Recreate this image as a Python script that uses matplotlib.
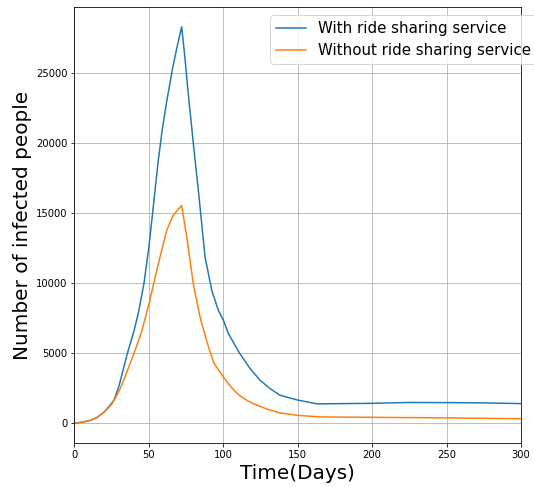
import matplotlib.pyplot as plt

# days / infected counts
days_with = [0, 5, 10, 15, 20, 24, 26.5, 30, 35.5, 40, 43, 46.7, 50, 53, 56, 59, 62,
             66, 69, 72, 74, 76, 80, 83.2, 87.7, 92.2, 96.6, 100, 103.4, 111, 118,
             124.7, 131, 138, 150, 163, 200, 225, 250, 275, 300]
with_ride = [0, 70, 180, 400, 800, 1300, 1640, 2700, 4980, 6600, 7900, 10000, 12600,
             15500, 18500, 21000, 23000, 25400, 26900, 28300, 26300, 24000, 19800,
             16640, 11880, 9500, 8070, 7360, 6400, 4980, 3900, 3070, 2500, 2000, 1650,
             1380, 1420, 1480, 1470, 1450, 1400]

days_without = [0, 5, 10, 15, 20, 25, 28, 31, 35, 40, 45, 50, 55, 57.5, 62, 66.4, 72,
                75.4, 79.8, 84.3, 90, 93.8, 100, 105, 110, 115.7, 120, 130, 138, 150,
                165, 200, 250, 300]
without_ride = [0, 70, 180, 400, 800, 1350, 1900, 2540, 3600, 5000, 6500, 8500, 10800,
                11880, 13790, 14860, 15550, 13310, 9980, 7590, 5450, 4260, 3300, 2600,
                2050, 1640, 1400, 980, 740, 560, 450, 420, 380, 320]

fig = plt.figure(figsize=(534 / 72, 487 / 72), dpi=72)
ax = fig.add_axes([0.1395, 0.0903, 0.8362, 0.8953])

ax.plot(days_with, with_ride, label="With ride sharing service")
ax.plot(days_without, without_ride, label="Without ride sharing service")

ax.set_xlim(0, 300)
ax.set_xlabel("Time(Days)", fontsize=20)
ax.set_ylabel("Number of infected people", fontsize=20)
ax.grid(True)
ax.legend(fontsize=15, loc="upper left", bbox_to_anchor=(0.421, 0.999))

fig.savefig("out.png", dpi=72)
